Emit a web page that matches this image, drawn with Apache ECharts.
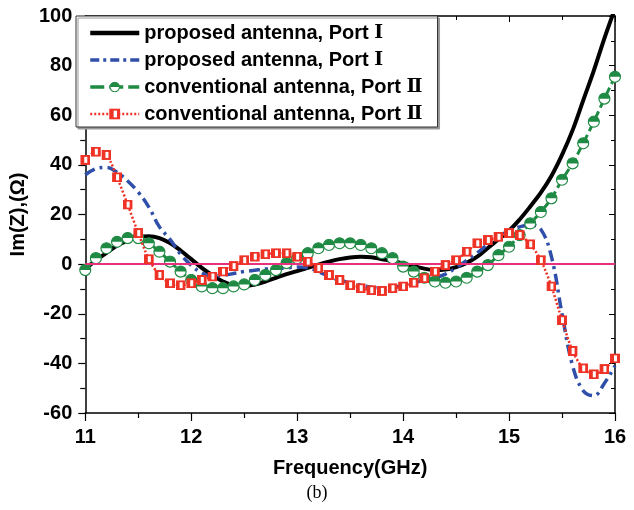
<!DOCTYPE html>
<html><head><meta charset="utf-8">
<script src="https://cdn.jsdelivr.net/npm/echarts@6/dist/echarts.min.js"></script>
<style>html,body{margin:0;padding:0;background:#fff}#c{width:634px;height:510px}</style>
</head><body><div id="c"></div>
<script>
// Frequency grid (GHz)
const freq = [11.0,11.1,11.2,11.3,11.4,11.5,11.6,11.7,11.8,11.9,12.0,12.1,12.2,12.3,12.4,12.5,12.6,12.7,12.8,12.9,13.0,13.1,13.2,13.3,13.4,13.5,13.6,13.7,13.8,13.9,14.0,14.1,14.2,14.3,14.4,14.5,14.6,14.7,14.8,14.9,15.0,15.1,15.2,15.3,15.4,15.5,15.6,15.7,15.8,15.9,16.0];
// proposed antenna, Port I (solid black)
const propP1 = [-2,1.5,4.5,7.5,9.5,10.8,11.2,10.5,8.5,5.5,2,-1.5,-4.5,-7,-8.5,-8.8,-8.2,-7,-5.5,-4,-2.8,-1.5,-0.2,1,2,2.7,3,2.8,2,1.2,0.3,-0.8,-1.8,-2.4,-2.2,-1.2,0.5,3,6.5,10,13.5,18,23.2,28.8,35.5,44,54,66,78,91,103];
// proposed antenna, Port I (blue dash-dot)
const propP2 = [36,38.5,39,37,33.5,29,23,15,10,4,-0.5,-3.5,-4.8,-4.5,-3.8,-3,-2.5,-2,-1.8,-1.5,-1.2,-1.5,-3,-5,-6.5,-7.5,-8.5,-9.3,-9.8,-9.5,-8.5,-7.5,-6.5,-5.5,-4,-1.5,1.5,4.5,8,11,13.5,15,15.8,14,3,-20,-41,-51,-53,-48,-41];
// conventional antenna, Port II (green, half-filled circles)
const convP1 = [-2.4,2.4,6.4,9,10.5,10.5,8.4,5,1,-3,-6.4,-9,-9.7,-9.7,-9,-8.2,-6.4,-4.4,-2.4,0.4,2.4,4.4,6.4,7.7,8.4,8.4,7.7,6.4,4.4,2.4,-1,-3,-5.5,-7,-7.5,-7,-5.5,-3,-0.4,3.6,7,11.7,16.4,21,26.5,34,40.6,48.7,57.4,66.7,75.5];
// conventional antenna, Port II (red dotted, squares)
const convP2 = [42,45.3,44,35,24,12.5,2,-4.4,-7.7,-8.5,-7.7,-6.4,-5,-3,-0.8,1.6,3,4,4.4,4.4,3,1,-1.6,-4.4,-6.4,-8.5,-9.7,-10.5,-10.8,-9.7,-9,-7.5,-5.7,-3,-0.4,1.6,5,8.4,9.7,11,12.5,11.7,8,1.6,-9,-22.6,-35,-42,-44.4,-42.3,-38];
const legendNames = {
  s1: ['proposed antenna, Port ', 'Ⅰ'],
  s2: ['proposed antenna, Port ', 'Ⅰ'],
  s3: ['conventional antenna, Port ', 'Ⅱ'],
  s4: ['conventional antenna, Port ', 'Ⅱ']
};

const pair = (ys) => freq.map((f, i) => [f, ys[i]]);
const svgUrl = (s) => 'image://data:image/svg+xml;charset=utf-8,' + encodeURIComponent(s);
const greenSym = svgUrl('<svg xmlns="http://www.w3.org/2000/svg" width="26" height="26" viewBox="0 0 26 26"><circle cx="13" cy="13" r="11" fill="#ffffff" stroke="#1f8a43" stroke-width="2.4"/><path d="M2,13 A11,11 0 0 1 24,13 Z" fill="#1f8a43"/></svg>');
const redSym = svgUrl('<svg xmlns="http://www.w3.org/2000/svg" width="20" height="20" viewBox="0 0 20 20"><rect x="0" y="0" width="20" height="20" fill="#ee3226"/><rect x="8" y="4" width="6" height="12" fill="#ffffff"/></svg>');

const GREEN = '#1f8a43', RED = '#ee3226', BLUE = '#2f4fa8';
const font = 'Liberation Sans, Arial, sans-serif';

const chart = echarts.init(document.getElementById('c'), null, {renderer: 'canvas'});
chart.setOption({
  animation: false,
  backgroundColor: '#fff',
  grid: {left: 76, right: 19, top: 16, bottom: 97},
  legend: {
    orient: 'vertical', left: 76, top: 16,
    padding: [7, 15, 3, 12],
    itemWidth: 49, itemHeight: 14, itemGap: 7,
    backgroundColor: '#fff', borderColor: '#333', borderWidth: 1,
    shadowColor: '#999', shadowOffsetX: 2, shadowOffsetY: 2, shadowBlur: 0,
    data: [
      {name: 's1', itemStyle: {opacity: 0}, lineStyle: {width: 4.5, color: '#000'}},
      {name: 's2', itemStyle: {opacity: 0}, lineStyle: {width: 3.5, color: BLUE, type: [9, 4, 3, 4]}},
      {name: 's3', lineStyle: {width: 3.5, color: GREEN, type: [14, 5]}},
      {name: 's4', lineStyle: {width: 2.5, color: RED, type: [2, 2]}}
    ],
    formatter: (n) => '{a|' + legendNames[n][0] + '}{b|' + legendNames[n][1] + '}',
    textStyle: {
      lineHeight: 20,
      rich: {
        a: {fontFamily: font, fontWeight: 'bold', fontSize: 20, color: '#000', lineHeight: 20},
        b: {fontFamily: 'DejaVu Serif, Liberation Serif, serif', fontWeight: 'bold', fontSize: 19, color: '#000', lineHeight: 20}
      }
    }
  },
  xAxis: [{
    type: 'value', min: 11, max: 16, interval: 1, position: 'bottom',
    name: 'Frequency(GHz)', nameLocation: 'middle', nameGap: 45,
    nameTextStyle: {fontFamily: font, fontWeight: 'bold', fontSize: 20, color: '#000'},
    axisLine: {show: true, onZero: false, lineStyle: {color: '#000', width: 1.5}},
    axisTick: {show: true, inside: false, length: 8, lineStyle: {color: '#000', width: 1.2}},
    minorTick: {show: true, splitNumber: 2, length: 5, lineStyle: {color: '#000', width: 1.2}},
    axisLabel: {fontFamily: font, fontWeight: 'bold', fontSize: 20, color: '#000', margin: 14},
    splitLine: {show: false}
  }, {
    type: 'value', min: 11, max: 16, interval: 1, position: 'top',
    axisLine: {show: true, onZero: false, lineStyle: {color: '#000', width: 1.5}},
    axisTick: {show: true, inside: true, length: 6, lineStyle: {color: '#000', width: 1}},
    minorTick: {show: true, splitNumber: 2, length: 4, lineStyle: {color: '#000', width: 1}},
    axisLabel: {show: false}, splitLine: {show: false}
  }],
  yAxis: [{
    type: 'value', min: -60, max: 100, interval: 20, position: 'left',
    name: 'Im(Z),(Ω)', nameLocation: 'middle', nameGap: 51, nameRotate: 90,
    nameTextStyle: {fontFamily: font, fontWeight: 'bold', fontSize: 20, color: '#000'},
    axisLine: {show: true, onZero: false, lineStyle: {color: '#000', width: 1.5}},
    axisTick: {show: true, inside: false, length: 7, lineStyle: {color: '#000', width: 1.2}},
    minorTick: {show: true, splitNumber: 2, length: 5, lineStyle: {color: '#000', width: 1.2}},
    axisLabel: {fontFamily: font, fontWeight: 'bold', fontSize: 20, color: '#000', margin: 13},
    splitLine: {show: false}
  }, {
    type: 'value', min: -60, max: 100, interval: 20, position: 'right',
    axisLine: {show: true, onZero: false, lineStyle: {color: '#000', width: 1.5}},
    axisTick: {show: true, inside: true, length: 6, lineStyle: {color: '#000', width: 1}},
    minorTick: {show: true, splitNumber: 2, length: 4, lineStyle: {color: '#000', width: 1}},
    axisLabel: {show: false}, splitLine: {show: false}
  }],
  graphic: [{
    type: 'text', left: 'center', top: 484,
    style: {text: '(b)', font: '18px "Liberation Serif", "Times New Roman", serif', fill: '#000'}
  }],
  series: [
    {
      name: 's1', type: 'line', data: pair(propP1), smooth: 0.4, showSymbol: false, symbol: 'none',
      lineStyle: {color: '#000', width: 4}, itemStyle: {color: '#000'}, z: 2,
      markLine: {silent: true, symbol: 'none', label: {show: false},
        lineStyle: {color: '#e8317d', width: 2, type: 'solid'}, data: [{yAxis: 0}]}
    },
    {
      name: 's2', type: 'line', data: pair(propP2), smooth: 0.4, showSymbol: false, symbol: 'none',
      lineStyle: {color: BLUE, width: 3.5, type: [11, 5, 3, 5]}, itemStyle: {color: BLUE}, z: 3
    },
    {
      name: 's3', type: 'line', data: pair(convP1), smooth: 0.3, symbol: greenSym, symbolSize: 13, showAllSymbol: true,
      lineStyle: {color: GREEN, width: 3, type: [9, 4]}, itemStyle: {color: GREEN}, z: 4
    },
    {
      name: 's4', type: 'line', data: pair(convP2), smooth: 0.3, symbol: redSym, symbolSize: 10, showAllSymbol: true,
      lineStyle: {color: RED, width: 2.5, type: [2, 2]}, itemStyle: {color: RED}, z: 5
    }
  ]
});
</script></body></html>
